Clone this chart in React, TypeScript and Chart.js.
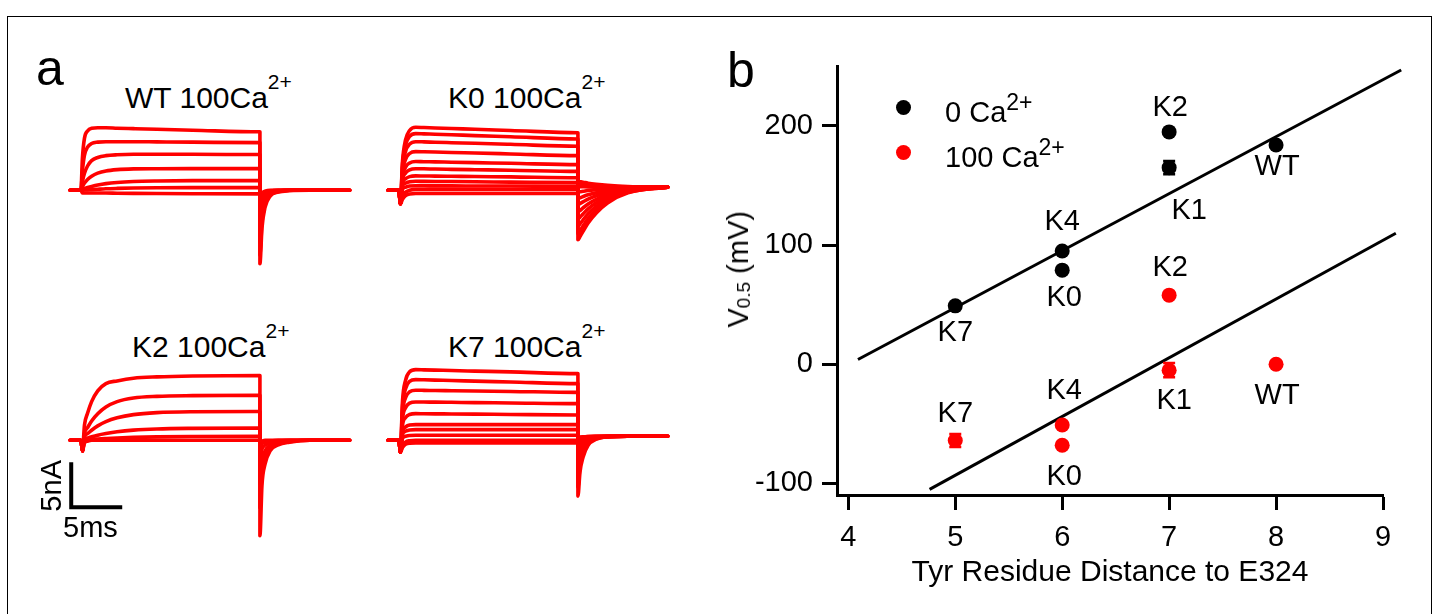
import React, { useEffect, useRef } from "react";
import { Chart, registerables } from "chart.js";

Chart.register(...registerables);

const FONT = "'Liberation Sans', Arial, Helvetica, sans-serif";
const RED = "#ff0000";
const BLACK = "#000000";

// ---------------- Panel b data ----------------
const distances = [5, 6, 6, 7, 7, 8];
const mutantNames = ["K7", "K4", "K0", "K2", "K1", "WT"];
const v05Ca0 = [49, 95, 79, 195, 165, 184];
const v05Ca0Err = [0, 0, 0, 0, 5.5, 0];
const v05Ca100 = [-64, -51, -68, 58, -5, 0];
const v05Ca100Err = [5.5, 0, 0, 0, 6, 0];
const fitCa0X = [4.09, 9.17];
const fitCa0Y = [4, 247];
const fitCa100X = [4.76, 9.12];
const fitCa100Y = [-105, 110];
const xTickValues = [4, 5, 6, 7, 8, 9];
const yTickValues = [-100, 0, 100, 200];
const xAxisTitle = "Tyr Residue Distance to E324";

// ---------------- Panel a data (time in ms, current in nA) ----------------
const traceTime = [0, 1.05, 1.2, 1.4, 1.7, 2.1, 2.7, 3.5, 4.6, 6.2, 8.5, 12, 18.6, 18.6, 18.8, 19.1, 19.6, 20.4, 21.5, 23.5, 27.4];

const wtTraces = [
  [0, 0, 3.6, 5.8, 6.6, 6.9, 6.95, 6.95, 6.9, 6.85, 6.78, 6.68, 6.5, -8.15, -4.2, -1.9, -0.65, -0.2, -0.05, 0, 0],
  [0, 0, 2.2, 3.9, 4.8, 5.2, 5.35, 5.4, 5.4, 5.4, 5.38, 5.35, 5.3, -7.2, -3.6, -1.6, -0.55, -0.15, 0, 0, 0],
  [0, 0, 1.0, 1.9, 2.7, 3.3, 3.65, 3.85, 3.95, 4.0, 4.0, 4.0, 3.97, -5.8, -2.9, -1.3, -0.45, -0.1, 0, 0, 0],
  [0, 0, 0.4, 0.8, 1.2, 1.55, 1.9, 2.15, 2.3, 2.38, 2.4, 2.41, 2.41, -4.2, -2.1, -0.9, -0.3, -0.08, 0, 0, 0],
  [0, 0, 0.1, 0.2, 0.3, 0.42, 0.58, 0.74, 0.87, 0.97, 1.03, 1.07, 1.08, -2.4, -1.2, -0.5, -0.15, 0, 0, 0, 0],
  [0, 0, 0, 0.03, 0.05, 0.08, 0.12, 0.17, 0.21, 0.25, 0.28, 0.3, 0.3, -1, -0.5, -0.2, -0.05, 0, 0, 0, 0],
  [0, 0, -0.3, -0.3, -0.3, -0.3, -0.3, -0.3, -0.32, -0.34, -0.36, -0.38, -0.4, -0.6, -0.3, -0.1, 0, 0, 0, 0, 0],
];

const k0Traces = [
  [0, 0, -1.5, 3.15, 5.6, 6.65, 7.0, 6.97, 6.93, 6.87, 6.78, 6.65, 6.4, -5.5, -5.15, -4.56, -3.63, -2.52, -1.41, -0.29, 0.35],
  [0, 0, -1.5, 2.84, 5.04, 5.99, 6.3, 6.27, 6.23, 6.17, 6.08, 5.95, 5.7, -4.8, -4.49, -3.98, -3.15, -2.17, -1.2, -0.22, 0.35],
  [0, 0, -1.5, 2.43, 4.32, 5.13, 5.4, 5.38, 5.34, 5.29, 5.22, 5.11, 4.9, -4.0, -3.74, -3.3, -2.61, -1.78, -0.96, -0.13, 0.35],
  [0, 0, -1.5, 1.94, 3.44, 4.09, 4.3, 4.28, 4.25, 4.2, 4.14, 4.04, 3.85, -3.2, -2.99, -2.63, -2.06, -1.39, -0.72, -0.04, 0.35],
  [0, 0, -1.5, 1.44, 2.56, 3.04, 3.2, 3.18, 3.16, 3.12, 3.07, 3.0, 2.85, -2.4, -2.24, -1.96, -1.52, -1.0, -0.48, 0.05, 0.35],
  [0, 0, -1.5, 1.08, 1.92, 2.28, 2.4, 2.39, 2.36, 2.33, 2.29, 2.23, 2.1, -1.6, -1.48, -1.29, -0.98, -0.61, -0.24, 0.14, 0.35],
  [0, 0, -1.5, 0.72, 1.28, 1.52, 1.6, 1.59, 1.58, 1.56, 1.53, 1.49, 1.4, -0.9, -0.83, -0.7, -0.5, -0.26, -0.03, 0.21, 0.35],
  [0, 0, -1.5, 0.45, 0.8, 0.95, 1.0, 0.99, 0.98, 0.97, 0.95, 0.91, 0.85, -0.2, -0.17, -0.11, -0.02, 0.08, 0.19, 0.29, 0.35],
  [0, 0, -1.5, 0.1, 0.35, 0.47, 0.5, 0.5, 0.49, 0.49, 0.48, 0.47, 0.45, 0.4, 0.4, 0.39, 0.38, 0.38, 0.37, 0.36, 0.35],
  [0, 0, -1.5, -0.6, -0.2, 0, 0.1, 0.1, 0.1, 0.1, 0.1, 0.1, 0.1, 1.0, 0.96, 0.9, 0.79, 0.67, 0.55, 0.42, 0.35],
  [0, 0, -1.5, -1.0, -0.6, -0.4, -0.35, -0.35, -0.35, -0.35, -0.35, -0.35, -0.35, 0.7, 0.68, 0.64, 0.58, 0.52, 0.45, 0.39, 0.35],
];

const k2Traces = [
  [0, 0, -1.2, 1.7, 3.0, 4.3, 5.5, 6.3, 6.6, 6.9, 7.05, 7.15, 7.2, -10.6, -5.0, -2.65, -1.17, -0.5, -0.2, 0, 0],
  [0, 0, -1.2, 0.77, 1.4, 2.15, 2.95, 3.7, 4.3, 4.7, 4.88, 4.96, 5.0, -7.5, -3.5, -1.9, -0.8, -0.35, -0.15, 0, 0],
  [0, 0, -1.2, 0.39, 0.74, 1.12, 1.6, 2.08, 2.5, 2.85, 3.07, 3.17, 3.2, -4.8, -2.25, -1.2, -0.53, -0.24, -0.1, 0, 0],
  [0, 0, -1.2, 0.13, 0.25, 0.39, 0.57, 0.75, 0.95, 1.13, 1.26, 1.33, 1.37, -2.2, -1.0, -0.55, -0.24, -0.1, 0, 0, 0],
  [0, 0, -1.2, 0.03, 0.06, 0.1, 0.15, 0.2, 0.26, 0.32, 0.38, 0.42, 0.45, -0.8, -0.38, -0.2, -0.09, 0, 0, 0, 0],
  [0, 0, -1.2, -0.3, -0.1, 0, 0, 0, 0, 0, 0, 0, 0, -0.2, -0.1, 0, 0, 0, 0, 0, 0],
];

const k7Traces = [
  [0, 0, -1.3, 4.32, 6.67, 7.61, 7.85, 7.83, 7.8, 7.75, 7.69, 7.6, 7.41, -6.2, -3.54, -1.88, -0.55, 0.12, 0.38, 0.45, 0.45],
  [0, 0, -1.3, 3.71, 5.73, 6.54, 6.74, 6.72, 6.69, 6.64, 6.58, 6.48, 6.3, -5.2, -2.94, -1.53, -0.4, 0.17, 0.39, 0.45, 0.45],
  [0, 0, -1.3, 3.06, 4.73, 5.39, 5.56, 5.55, 5.53, 5.51, 5.48, 5.43, 5.33, -4.2, -2.34, -1.18, -0.25, 0.22, 0.4, 0.45, 0.45],
  [0, 0, -1.3, 2.34, 3.62, 4.13, 4.26, 4.25, 4.24, 4.22, 4.19, 4.15, 4.07, -3.2, -1.74, -0.83, -0.1, 0.27, 0.41, 0.45, 0.45],
  [0, 0, -1.3, 1.63, 2.52, 2.87, 2.96, 2.95, 2.94, 2.93, 2.91, 2.87, 2.81, -2.2, -1.14, -0.48, 0.05, 0.32, 0.42, 0.45, 0.45],
  [0, 0, -1.3, 0.96, 1.48, 1.69, 1.74, 1.74, 1.74, 1.74, 1.74, 1.74, 1.74, -1.3, -0.6, -0.16, 0.19, 0.36, 0.43, 0.45, 0.45],
  [0, 0, -1.3, 0.65, 1.01, 1.15, 1.19, 1.19, 1.19, 1.19, 1.19, 1.19, 1.19, -0.7, -0.24, 0.05, 0.28, 0.39, 0.44, 0.45, 0.45],
  [0, 0, -1.3, 0.2, 0.45, 0.54, 0.56, 0.56, 0.56, 0.56, 0.56, 0.56, 0.56, -0.2, 0.06, 0.22, 0.35, 0.42, 0.45, 0.45, 0.45],
  [0, 0, -1.3, -0.6, -0.2, -0.05, 0, 0, 0, 0, 0, 0, 0, 0.2, 0.3, 0.36, 0.41, 0.44, 0.45, 0.45, 0.45],
  [0, 0, -1.3, -0.8, -0.45, -0.32, -0.3, -0.3, -0.3, -0.3, -0.3, -0.3, -0.3, 0.3, 0.36, 0.4, 0.43, 0.45, 0.45, 0.45, 0.45],
];

const scaleBarCurrent = 5; // nA
const scaleBarTime = 5; // ms

// ---------------- Layout constants ----------------
const TRACE_W = 306;
const TRACE_H = 180;
const TRACE_X_RANGE = [-1, 29];
const TRACE_Y_RANGE = [-11.3, 8.7];
const SCALEBAR_ANCHOR = { t: 0.1, i: -2.44 };
const labelOffCa0 = [[0, 27], [0, -29], [2, 28], [1, -24], [20, 43], [1, 22]];
const labelOffCa100 = [[0, -26], [2, -34], [2, 32], [1, -27], [5, 31], [1, 32]];

Chart.defaults.font.family = FONT;

function TraceChart({ traces, left, top, scaleBar }: { traces: number[][]; left: number; top: number; scaleBar?: boolean }) {
  const ref = useRef<HTMLCanvasElement>(null);
  useEffect(() => {
    const datasets: any[] = traces.map((tr) => ({
      data: traceTime.map((t, i) => ({ x: t, y: tr[i] })),
      borderColor: RED,
      borderWidth: 3.6,
      pointRadius: 0,
      fill: false,
      cubicInterpolationMode: "monotone",
      borderCapStyle: "round",
      borderJoinStyle: "round",
    }));
    if (scaleBar) {
      const a = SCALEBAR_ANCHOR;
      datasets.push({
        data: [
          { x: a.t, y: a.i },
          { x: a.t, y: a.i - scaleBarCurrent },
          { x: a.t + scaleBarTime, y: a.i - scaleBarCurrent },
        ],
        borderColor: BLACK,
        borderWidth: 4,
        pointRadius: 0,
        tension: 0,
        fill: false,
        borderJoinStyle: "miter",
        clip: false,
      });
    }
    const chart = new Chart(ref.current!, {
      type: "line",
      data: { datasets },
      options: {
        animation: false,
        responsive: false,
        devicePixelRatio: 1,
        events: [],
        layout: { padding: 0 },
        scales: {
          x: { type: "linear", min: TRACE_X_RANGE[0], max: TRACE_X_RANGE[1], display: false },
          y: { type: "linear", min: TRACE_Y_RANGE[0], max: TRACE_Y_RANGE[1], display: false },
        },
        plugins: { legend: { display: false }, tooltip: { enabled: false } },
      },
    } as any);
    return () => chart.destroy();
  }, []);
  return (
    <canvas
      ref={ref}
      width={TRACE_W}
      height={TRACE_H}
      style={{ position: "absolute", left, top, width: TRACE_W, height: TRACE_H }}
    />
  );
}

function ScatterChart() {
  const ref = useRef<HTMLCanvasElement>(null);
  useEffect(() => {
    const pts = (xs: number[], ys: number[]) => xs.map((x, i) => ({ x, y: ys[i] }));
    const labelPlugin = {
      id: "pointLabels",
      afterDatasetsDraw(chart: any) {
        const c = chart.ctx;
        const yScale = chart.scales.y;
        const groups = [
          { ds: 0, vals: v05Ca0, offs: labelOffCa0, err: v05Ca0Err, color: BLACK },
          { ds: 1, vals: v05Ca100, offs: labelOffCa100, err: v05Ca100Err, color: RED },
        ];
        c.save();
        for (const g of groups) {
          const meta = chart.getDatasetMeta(g.ds);
          meta.data.forEach((el: any, i: number) => {
            const e = g.err[i];
            if (e > 0) {
              const yT = yScale.getPixelForValue(g.vals[i] + e);
              const yB = yScale.getPixelForValue(g.vals[i] - e);
              c.strokeStyle = g.color;
              c.lineWidth = 2.5;
              c.beginPath();
              c.moveTo(el.x, yT);
              c.lineTo(el.x, yB);
              c.moveTo(el.x - 6, yT);
              c.lineTo(el.x + 6, yT);
              c.moveTo(el.x - 6, yB);
              c.lineTo(el.x + 6, yB);
              c.stroke();
            }
            c.fillStyle = BLACK;
            c.font = `29px ${FONT}`;
            c.textAlign = "center";
            c.textBaseline = "middle";
            c.fillText(mutantNames[i], el.x + g.offs[i][0], el.y + g.offs[i][1]);
          });
        }
        c.restore();
      },
    };
    const chart = new Chart(ref.current!, {
      type: "scatter",
      data: {
        datasets: [
          { data: pts(distances, v05Ca0), backgroundColor: BLACK, borderColor: BLACK, borderWidth: 0, pointRadius: 7.5 },
          { data: pts(distances, v05Ca100), backgroundColor: RED, borderColor: RED, borderWidth: 0, pointRadius: 7.5 },
          { type: "line", data: pts(fitCa0X, fitCa0Y), borderColor: BLACK, borderWidth: 3, pointRadius: 0, fill: false, clip: false, tension: 0 },
          { type: "line", data: pts(fitCa100X, fitCa100Y), borderColor: BLACK, borderWidth: 3, pointRadius: 0, fill: false, clip: false, tension: 0 },
        ],
      },
      options: {
        animation: false,
        responsive: false,
        devicePixelRatio: 1,
        events: [],
        layout: { padding: { top: 23, right: 47, bottom: 0, left: 0 } },
        plugins: { legend: { display: false }, tooltip: { enabled: false } },
        scales: {
          x: {
            type: "linear",
            min: 3.894,
            max: 9,
            afterBuildTicks: (ax: any) => {
              ax.ticks = xTickValues.map((v) => ({ value: v }));
            },
            afterFit: (s: any) => {
              s.height = 115;
            },
            border: { display: true, width: 3, color: BLACK },
            grid: { display: true, drawOnChartArea: false, drawTicks: true, tickLength: 15, tickWidth: 3, tickColor: BLACK, color: BLACK },
            ticks: { color: BLACK, font: { family: FONT, size: 29 }, padding: 10.5, maxRotation: 0, autoSkip: false },
            title: { display: true, text: xAxisTitle, color: BLACK, font: { family: FONT, size: 30 }, padding: { top: 0, bottom: 19.5 } },
          },
          y: {
            type: "linear",
            min: -109.75,
            max: 250,
            afterBuildTicks: (ax: any) => {
              ax.ticks = yTickValues.map((v) => ({ value: v }));
            },
            afterFit: (s: any) => {
              s.width = 137;
            },
            border: { display: true, width: 3, color: BLACK },
            grid: { display: true, drawOnChartArea: false, drawTicks: true, tickLength: 15, tickWidth: 3, tickColor: BLACK, color: BLACK },
            ticks: { color: BLACK, font: { family: FONT, size: 29 }, padding: 9, autoSkip: false },
          },
        },
      },
      plugins: [labelPlugin],
    } as any);
    return () => chart.destroy();
  }, []);
  return (
    <canvas ref={ref} width={730} height={570} style={{ position: "absolute", left: 700, top: 40, width: 730, height: 570 }} />
  );
}

const Txt = ({ x, base, size, children, style }: { x: number; base: number; size: number; children: any; style?: any }) => (
  <div
    style={{
      position: "absolute",
      left: x,
      top: base - 0.8465 * size,
      fontSize: size,
      lineHeight: 1,
      whiteSpace: "nowrap",
      ...style,
    }}
  >
    {children}
  </div>
);

const Sup = ({ size, raise }: { size: number; raise: number }) => (
  <span style={{ fontSize: size, verticalAlign: `${raise}px`, lineHeight: 0 }}>2+</span>
);

const Title = ({ name, x, base }: { name: string; x: number; base: number }) => (
  <Txt x={x} base={base} size={30}>
    {name} 100Ca
    <Sup size={21} raise={19} />
  </Txt>
);

export default function App() {
  return (
    <div
      style={{
        position: "fixed",
        left: 0,
        top: 0,
        width: 1440,
        height: 614,
        overflow: "hidden",
        background: "#fff",
        fontFamily: FONT,
        color: BLACK,
      }}
    >
      <div style={{ position: "absolute", left: 7, top: 16, width: 1425, height: 700, border: "1px solid #000", boxSizing: "border-box" }} />

      {/* panel labels */}
      <Txt x={36} base={85} size={50}>a</Txt>
      <Txt x={727} base={87} size={50}>b</Txt>

      {/* panel a titles */}
      <Title name="WT" x={125} base={107} />
      <Title name="K0" x={448} base={107} />
      <Title name="K2" x={132} base={356} />
      <Title name="K7" x={448} base={356} />

      <TraceChart traces={wtTraces} left={60} top={112} />
      <TraceChart traces={k0Traces} left={378} top={112} />
      <TraceChart traces={k2Traces} left={60} top={362} scaleBar />
      <TraceChart traces={k7Traces} left={378} top={362} />

      {/* scale bar labels */}
      <div
        style={{
          position: "absolute",
          left: 36.5,
          top: 460,
          fontSize: 29,
          lineHeight: 1,
          writingMode: "vertical-rl",
          transform: "rotate(180deg)",
          whiteSpace: "nowrap",
        }}
      >
        {scaleBarCurrent}nA
      </div>
      <Txt x={63} base={538} size={29}>{scaleBarTime}ms</Txt>

      {/* panel b */}
      <ScatterChart />
      <div
        style={{
          position: "absolute",
          left: 723.5,
          top: 211,
          fontSize: 29,
          lineHeight: 1,
          writingMode: "vertical-rl",
          transform: "rotate(180deg)",
          whiteSpace: "nowrap",
        }}
      >
        V<span style={{ fontSize: 19, verticalAlign: "-6px", lineHeight: 0 }}>0.5</span> (mV)
      </div>

      {/* legend */}
      <div style={{ position: "absolute", left: 895.5, top: 99.5, width: 15, height: 15, borderRadius: "50%", background: BLACK }} />
      <div style={{ position: "absolute", left: 895.5, top: 144.5, width: 15, height: 15, borderRadius: "50%", background: RED }} />
      <Txt x={945} base={123} size={29}>
        0 Ca
        <Sup size={23} raise={12} />
      </Txt>
      <Txt x={945} base={168} size={29}>
        100 Ca
        <Sup size={23} raise={12} />
      </Txt>
    </div>
  );
}
